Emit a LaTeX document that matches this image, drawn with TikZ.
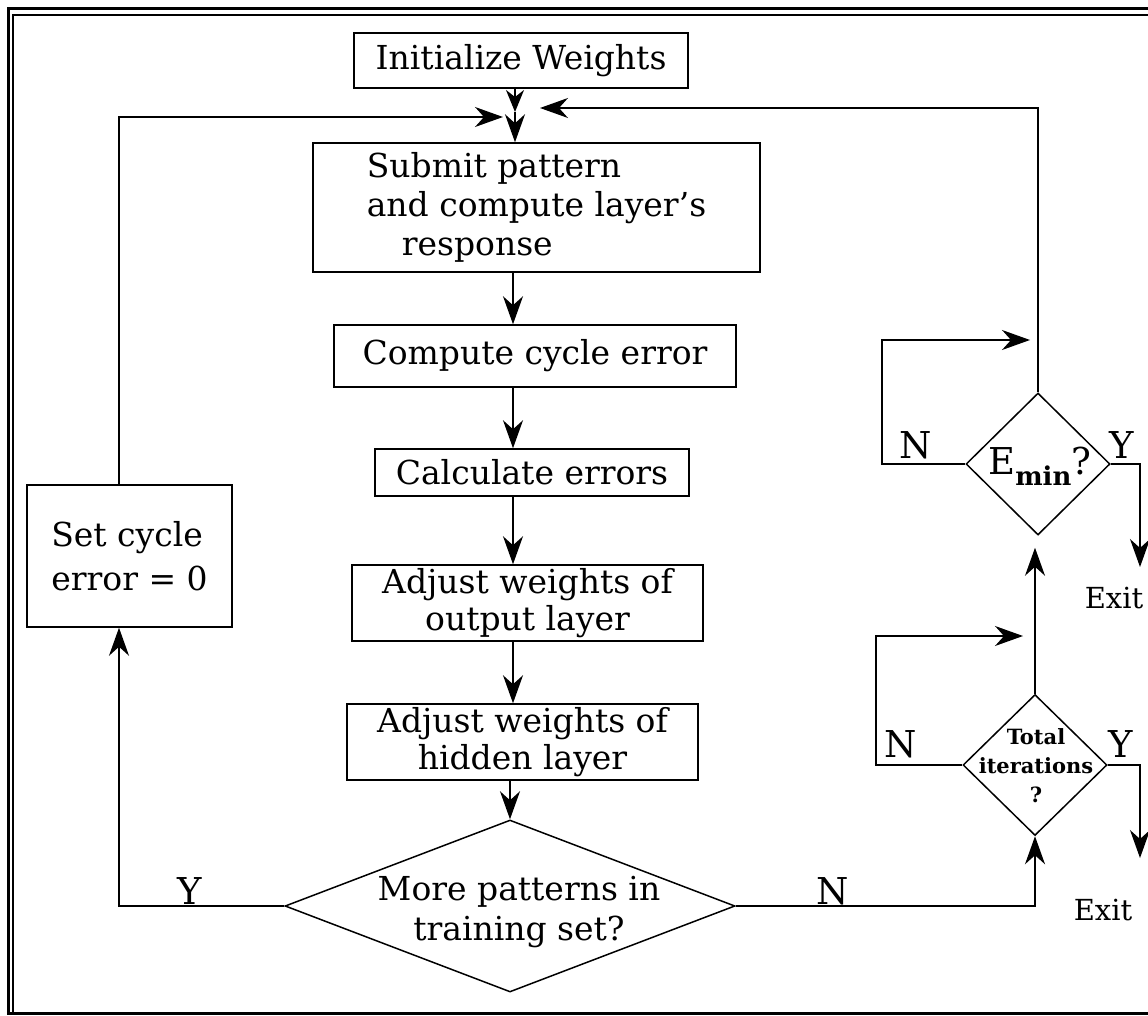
\documentclass[tikz,border=0pt]{standalone}
\usepackage{fontspec}
\setmainfont{DejaVu Serif}
\usetikzlibrary{arrows.meta,shapes.geometric,calc}
\begin{document}
\begin{tikzpicture}[x=1pt,y=-1pt,
  box/.style={draw, line width=1.5pt, inner sep=0pt, font=\fontsize{33}{39}\selectfont, align=center},
  dia/.style={draw, diamond, line width=1.5pt, inner sep=0pt},
  arr/.style={line width=1.5pt, -{Stealth[length=28pt,width=20pt,inset=9pt]}},
  lab/.style={font=\fontsize{37}{37}\selectfont, anchor=base, inner sep=0pt},
  exitlab/.style={font=\fontsize{29}{29}\selectfont, anchor=base, inner sep=0pt},
  txt/.style={font=\fontsize{33}{40}\selectfont, align=center, inner sep=0pt}
]
\useasboundingbox (0,0) rectangle (1148,1016);
% frame
\draw[line width=3pt] (1160,9) -- (8,9) -- (8,1013) -- (1160,1013);
\draw[line width=1.5pt] (1160,15) -- (13,15) -- (13,1013);

% boxes
\node[box, minimum width=334pt, minimum height=55pt] (init) at (521,60.5) {Initialize Weights};
\node[box, minimum width=447pt, minimum height=129pt, align=left] (submit) at (536.5,207.5) {Submit pattern\\and compute layer’s\\\hspace*{35pt}response};
\node[box, minimum width=402pt, minimum height=62pt] (compute) at (535,356) {Compute cycle error};
\node[box, minimum width=314pt, minimum height=47pt] (calc) at (532,472.5) {Calculate errors};
\node[box, minimum width=351pt, minimum height=76pt, font=\fontsize{33}{37}\selectfont] (adjout) at (527.5,603) {Adjust weights of\\output layer};
\node[box, minimum width=351pt, minimum height=76pt, font=\fontsize{33}{37}\selectfont] (adjhid) at (522.5,742) {Adjust weights of\\hidden layer};
\node[box, minimum width=205pt, minimum height=142pt, align=left, font=\fontsize{33}{44}\selectfont] (setc) at (129.5,556) {Set cycle\\error = 0};

% diamonds
\node[dia, minimum width=450pt, minimum height=172pt] (more) at (510,906) {};
\node[txt] (moretxt) at (519,912) {More patterns in\\training set?};
\node[dia, minimum width=144pt, minimum height=142pt] (emin) at (1038,464) {};
\node[txt, font=\fontsize{37}{37}\selectfont] (emintxt) at (1040,466) {E\textsubscript{\bfseries min}?};
\node[dia, minimum width=144pt, minimum height=141pt] (total) at (1035,765) {};
\node[txt, font=\bfseries\fontsize{21}{29}\selectfont] (totaltxt) at (1036,766) {Total\\iterations\\?};

% labels
\node[lab] (n1) at (916,458) {N};
\node[lab] (y1) at (1122,458) {Y};
\node[lab] (n2) at (901,757) {N};
\node[lab] (y2) at (1121,757) {Y};
\node[lab] (n3) at (833,904) {N};
\node[lab] (y3) at (190,904) {Y};
\node[exitlab] (exit1) at (1114,608) {Exit};
\node[exitlab] (exit2) at (1103,920) {Exit};

% helper coordinates
\coordinate (col) at (513,0);
\coordinate (lcol) at (119,0);
\coordinate (j) at (515,112);
\coordinate (jl) at (503,117);
\coordinate (jr) at (540,108);
\coordinate (nl1) at (882,340);
\coordinate (nt1) at (1030,340);
\coordinate (nl2) at (876,636);
\coordinate (nt2) at (1023,636);
\coordinate (ye1) at (1140,567);
\coordinate (ye2) at (1140,858);

% connectors
\draw[line width=1.5pt, -{Stealth[length=22pt,width=18pt,inset=7pt]}] (init.south -| j) -- (j);
\draw[arr] (j) -- (submit.north -| j);
\draw[arr] (setc.north -| lcol) |- (jl);
\draw[arr] (emin.north) |- (jr);
\draw[arr] (submit.south -| col) -- (compute.north -| col);
\draw[arr] (compute.south -| col) -- (calc.north -| col);
\draw[arr] (calc.south -| col) -- (adjout.north -| col);
\draw[arr] (adjout.south -| col) -- (adjhid.north -| col);
\draw[arr] (adjhid.south -| more.north) -- (more.north);
\draw[arr] (more.west) -| (setc.south -| lcol);
\draw[arr] (more.east) -| (total.south);
\draw[arr] (total.north) -- ([yshift=-12pt]emin.south -| total.north);
\draw[arr] (emin.west) -| (nl1) -- (nt1);
\draw[arr] (total.west) -| (nl2) -- (nt2);
\draw[arr] (emin.east) -| (ye1);
\draw[arr] (total.east) -| (ye2);
\end{tikzpicture}
\end{document}
